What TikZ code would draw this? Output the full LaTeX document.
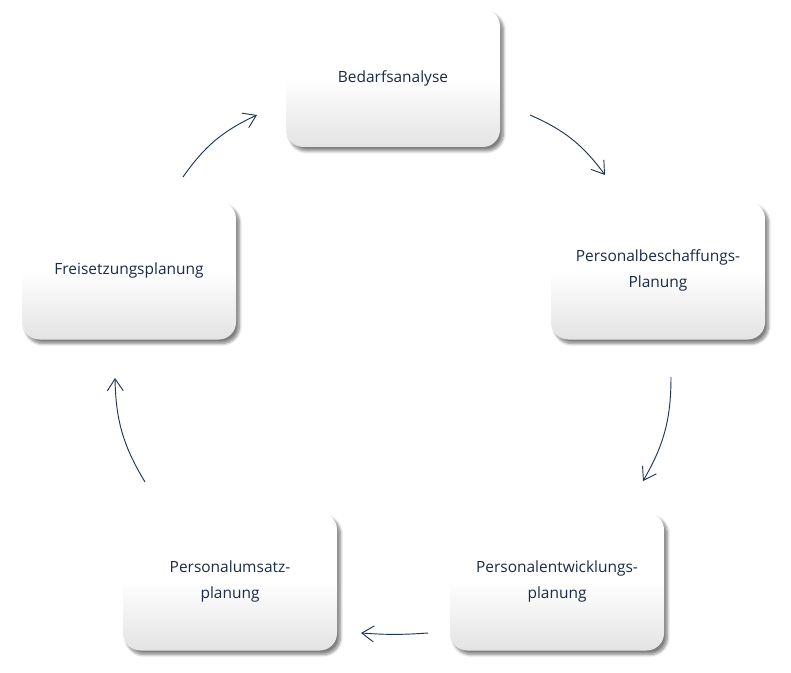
\documentclass[tikz,border=0pt]{standalone}
\usepackage{fontspec}
\setmainfont{Open Sans}
\usetikzlibrary{arrows.meta,shadows.blur}
\definecolor{txt}{HTML}{1B2B45}
\definecolor{arr}{HTML}{1F3552}
\tikzset{
  box/.style={rounded corners=13pt, minimum width=160.5pt, minimum height=103.5pt,
    top color=white, bottom color=black!11, middle color=white,
    text=txt, font=\fontsize{11.6}{19.5}\selectfont, align=center,
    blur shadow={shadow xshift=2.5pt, shadow yshift=-3pt, shadow blur steps=8, shadow opacity=50}},
  flow/.style={draw=arr, line width=0.7pt, -{Straight Barb[length=9pt,width=12pt,line width=0.7pt]}}
}
\begin{document}
\begin{tikzpicture}[x=0.75pt,y=-0.75pt]
\useasboundingbox (0,0) rectangle (791,673);
\node[box] (a) at (393,78) {Bedarfsanalyse};
\node[box] (b) at (658,270.5) {Personalbeschaffungs-\\Planung};
\node[box] (c) at (557,581.5) {Personalentwicklungs-\\planung};
\node[box] (d) at (230,581.5) {Personalumsatz-\\planung};
\node[box] (e) at (129,270.5) {Freisetzungsplanung};
\coordinate (a1) at (530,115); \coordinate (a2) at (605,175);
\coordinate (b1) at (671,377); \coordinate (b2) at (643,481);
\coordinate (c1) at (428,633); \coordinate (c2) at (361,633);
\coordinate (d1) at (145,482); \coordinate (d2) at (115,378);
\coordinate (e1) at (183,177); \coordinate (e2) at (257,115);
\draw[flow] (a1) to[bend left=15] (a2);
\draw[flow] (b1) to[bend left=15] (b2);
\draw[flow] (c1) to[bend left=4] (c2);
\draw[flow] (d1) to[bend left=15] (d2);
\draw[flow] (e1) to[bend left=15] (e2);
\end{tikzpicture}
\end{document}
